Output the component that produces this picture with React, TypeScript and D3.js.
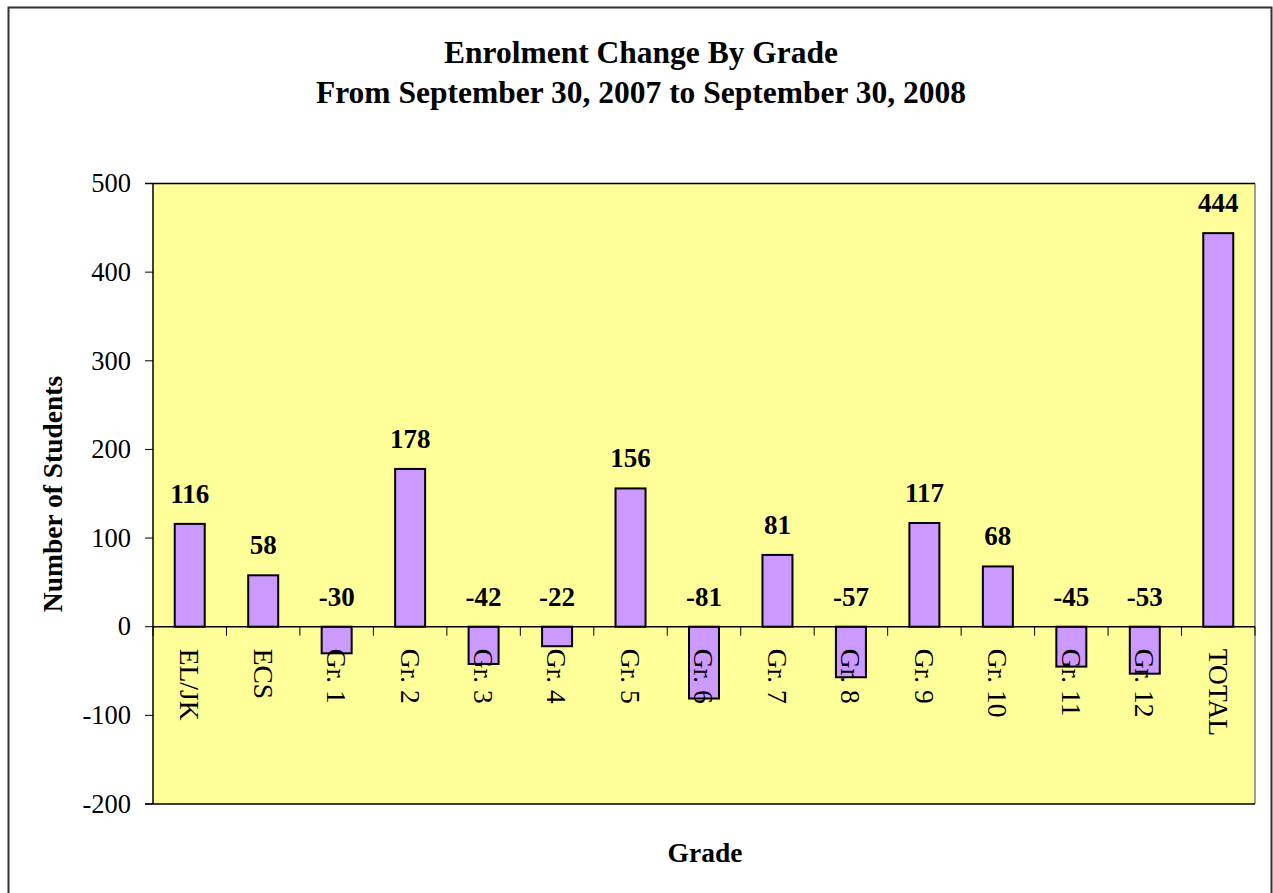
import React from "react";
import * as d3 from "d3";

const categories = ["EL/JK", "ECS", "Gr. 1", "Gr. 2", "Gr. 3", "Gr. 4", "Gr. 5", "Gr. 6", "Gr. 7", "Gr. 8", "Gr. 9", "Gr. 10", "Gr. 11", "Gr. 12", "TOTAL"];
const values = [116, 58, -30, 178, -42, -22, 156, -81, 81, -57, 117, 68, -45, -53, 444];
const yTicks = [-200, -100, 0, 100, 200, 300, 400, 500];

const W = 1273;
const H = 893;
const left = 153;
const right = 1255;
const top = 183.5;
const bottom = 804;
const font = "'Liberation Serif', 'Times New Roman', serif";

export default function App() {
  const x = d3.scaleBand<string>().domain(categories).range([left, right]).paddingInner(0).paddingOuter(0);
  const y = d3.scaleLinear().domain([-200, 500]).range([bottom, top]);
  const bw = 30;
  const y0 = y(0);

  return (
    <svg width={W} height={H} style={{ position: "absolute", left: 0, top: 0, background: "#fff" }} fontFamily={font}>
      <rect x={8.5} y={7.5} width={1263} height={910} fill="#fff" stroke="#333" strokeWidth={2} />
      <text x={641} y={63} textAnchor="middle" fontWeight="bold" fontSize={31.5}>Enrolment Change By Grade</text>
      <text x={641} y={103} textAnchor="middle" fontWeight="bold" fontSize={31.5}>From September 30, 2007 to September 30, 2008</text>

      <rect x={left} y={top} width={right - left} height={bottom - top} fill="#FFFF99" />
      <line x1={right} x2={right} y1={top} y2={bottom} stroke="#808080" strokeWidth={1.5} />
      <line x1={left - 8} x2={right} y1={top} y2={top} stroke="#000" strokeWidth={1.5} />
      <line x1={left - 8} x2={right} y1={bottom} y2={bottom} stroke="#000" strokeWidth={1.5} />

      {values.map((v, i) => {
        const c = categories[i];
        const cx = (x(c) as number) + x.bandwidth() / 2;
        const yt = y(Math.max(v, 0));
        const yb = y(Math.min(v, 0));
        return (
          <g key={c}>
            <rect x={cx - bw / 2} y={yt} width={bw} height={yb - yt} fill="#CC99FF" stroke="#000" strokeWidth={2} />
          </g>
        );
      })}

      {/* x axis */}
      <line x1={left} x2={right} y1={y0} y2={y0} stroke="#000" strokeWidth={1.5} />
      {categories.map((c) => (
        <line key={"t" + c} x1={(x(c) as number) + x.bandwidth()} x2={(x(c) as number) + x.bandwidth()} y1={y0} y2={y0 + 9} stroke="#000" strokeWidth={1} />
      ))}
      <line x1={left} x2={left} y1={y0} y2={y0 + 9} stroke="#000" strokeWidth={1} />

      {categories.map((c) => {
        const cx = (x(c) as number) + x.bandwidth() / 2;
        return (
          <text key={"l" + c} transform={`translate(${cx},${y0 + 22}) rotate(90)`} dy="0.35em" fontSize={27.5} textAnchor="start">{c}</text>
        );
      })}

      {/* y axis */}
      <line x1={left} x2={left} y1={top} y2={bottom} stroke="#000" strokeWidth={1.5} />
      {yTicks.map((t) => (
        <g key={"y" + t}>
          <line x1={left - 8} x2={left} y1={y(t)} y2={y(t)} stroke="#000" strokeWidth={1} />
          <text x={131} y={y(t)} dy="0.33em" textAnchor="end" fontSize={26.5}>{t}</text>
        </g>
      ))}

      {values.map((v, i) => {
        const c = categories[i];
        const cx = (x(c) as number) + x.bandwidth() / 2;
        return (
          <text key={"v" + c} x={cx} y={y(Math.max(v, 0)) - 21} textAnchor="middle" fontWeight="bold" fontSize={27}>{v}</text>
        );
      })}

      <text transform={`translate(62,494) rotate(-90)`} textAnchor="middle" fontWeight="bold" fontSize={27.5}>Number of Students</text>
      <text x={705} y={862} textAnchor="middle" fontWeight="bold" fontSize={27.5}>Grade</text>
    </svg>
  );
}
